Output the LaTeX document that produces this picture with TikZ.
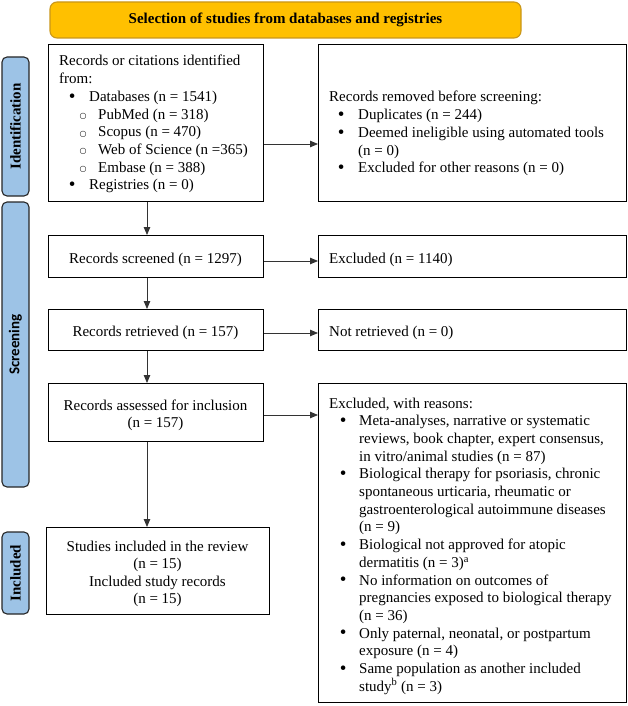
\documentclass[tikz,border=0pt]{standalone}
\usepackage{fontspec}
\setmainfont{Liberation Serif}
\newfontfamily\calib{Carlito}
\newfontfamily\dejavu{DejaVu Sans}
\usetikzlibrary{arrows.meta,calc}
\definecolor{gold}{HTML}{FFC000}
\definecolor{goldline}{HTML}{C9961A}
\definecolor{labblue}{HTML}{9DC3E6}
\definecolor{arrgray}{HTML}{333333}
\newcommand{\bul}[2]{\hspace*{#1pt}\makebox[0pt]{\raisebox{-0.8pt}{\fontsize{19}{19}\selectfont\textbullet}}\hspace*{#2pt}}
\newcommand{\cir}[2]{\hspace*{#1pt}\makebox[0pt]{\raisebox{0.6pt}{\dejavu\fontsize{8}{8}\selectfont ○}}\hspace*{#2pt}}
\newcommand{\lft}[1]{\begin{minipage}[t]{300pt}\fontsize{15}{17.7}\selectfont #1\end{minipage}}
\newcommand{\ctr}[1]{\begin{minipage}[t]{220pt}\centering\fontsize{15}{17.5}\selectfont #1\end{minipage}}
\begin{document}
\begin{tikzpicture}[x=1pt,y=-1pt,
  box/.style={draw=black,line width=1.1pt,inner sep=0,anchor=north west},
  txt/.style={inner sep=0,font=\fontsize{15}{17.7}\selectfont},
  lab/.style={draw=black!85,line width=1.1pt,fill=labblue,rounded corners=5pt,inner sep=0,rotate=90,minimum height=27pt,font=\fontsize{15}{18}\selectfont\bfseries},
  arr/.style={draw=arrgray,line width=0.8pt,-{Triangle[length=8pt,width=6.5pt]}}]
\useasboundingbox (0,0) rectangle (627,706);
% banner
\node[draw=goldline, fill=gold, line width=1.1pt, rounded corners=7pt, minimum width=471pt, minimum height=36pt, inner sep=0] (ban) at (285.5,20) {\fontsize{15}{18}\selectfont\bfseries Selection of studies from databases and registries};
% side labels
\node[lab, minimum width=139pt] (lid) at (15.5,126.5) {Identification};
\node[lab, minimum width=285pt] (lsc) at (15.5,344.5) {\calib\bfseries Screening};
\node[lab, minimum width=82pt] (lin) at (15.5,573) {Included};
% boxes
\node[box, minimum width=215pt, minimum height=157pt] (b1) at (48,44) {};
\node[box, minimum width=308pt, minimum height=157pt] (r1) at (318,44) {};
\node[box, minimum width=215pt, minimum height=42pt] (s1) at (48,235) {};
\node[box, minimum width=308pt, minimum height=42pt] (e1) at (318,235) {};
\node[box, minimum width=215pt, minimum height=41pt] (s2) at (48,309) {};
\node[box, minimum width=308pt, minimum height=41pt] (e2) at (318,309) {};
\node[box, minimum width=215pt, minimum height=58pt] (s3) at (48,383) {};
\node[box, minimum width=308pt, minimum height=319pt] (e3) at (318,383) {};
\node[box, minimum width=223pt, minimum height=87pt] (s4) at (46,527) {};
% texts
\node[txt, anchor=base west] (t1) at (59,66) {\lft{Records or citations identified\\
from:\\
\bul{13}{17}Databases (n = 1541)\\
\cir{24}{15}PubMed (n = 318)\\
\cir{24}{15}Scopus (n = 470)\\
\cir{24}{15}Web of Science (n =365)\\
\cir{24}{15}Embase (n = 388)\\
\bul{13}{17}Registries (n = 0)}};
\node[txt, anchor=base west] (t2) at (329,102) {\lft{Records removed before screening:\\
\bul{12}{17}Duplicates (n = 244)\\
\bul{12}{17}Deemed ineligible using automated tools\\
\hspace*{29pt}(n = 0)\\
\bul{12}{17}Excluded for other reasons (n = 0)}};
\node[txt, anchor=base] (t3) at (155.5,263) {Records screened (n = 1297)};
\node[txt, anchor=base west] (t4) at (329,263) {Excluded (n = 1140)};
\node[txt, anchor=base] (t5) at (155.5,336) {Records retrieved (n = 157)};
\node[txt, anchor=base west] (t6) at (329,336) {Not retrieved (n = 0)};
\node[txt, anchor=base] (t7) at (155.5,410) {\ctr{Records assessed for inclusion\\(n = 157)}};
\node[txt, anchor=base west] (t8) at (329,408) {\lft{Excluded, with reasons:\\
\bul{14}{16}Meta-analyses, narrative or systematic\\
\hspace*{30pt}reviews, book chapter, expert consensus,\\
\hspace*{30pt}in vitro/animal studies (n = 87)\\
\bul{14}{16}Biological therapy for psoriasis, chronic\\
\hspace*{30pt}spontaneous urticaria, rheumatic or\\
\hspace*{30pt}gastroenterological autoimmune diseases\\
\hspace*{30pt}(n = 9)\\
\bul{14}{16}Biological not approved for atopic\\
\hspace*{30pt}dermatitis (n = 3)\textsuperscript{a}\\
\bul{14}{16}No information on outcomes of\\
\hspace*{30pt}pregnancies exposed to biological therapy\\
\hspace*{30pt}(n = 36)\\
\bul{14}{16}Only paternal, neonatal, or postpartum\\
\hspace*{30pt}exposure (n = 4)\\
\bul{14}{16}Same population as another included\\
\hspace*{30pt}study\textsuperscript{b} (n = 3)}};
\node[txt, anchor=base] (t9) at (157.5,551) {\ctr{Studies included in the review\\(n = 15)\\Included study records\\(n = 15)}};
% arrows
\draw[arr] (b1.east |- 0,144) -- (r1.west |- 0,144);
\draw[arr] (b1.south -| 147,0) -- (s1.north -| 147,0);
\draw[arr] (s1.east |- 0,261) -- (e1.west |- 0,261);
\draw[arr] (s1.south -| 147,0) -- (s2.north -| 147,0);
\draw[arr] (s2.east |- 0,333) -- (e2.west |- 0,333);
\draw[arr] (s2.south -| 147,0) -- (s3.north -| 147,0);
\draw[arr] (s3.east |- 0,415) -- (e3.west |- 0,415);
\draw[arr] (s3.south -| 147,0) -- (s4.north -| 147,0);
\end{tikzpicture}
\end{document}
